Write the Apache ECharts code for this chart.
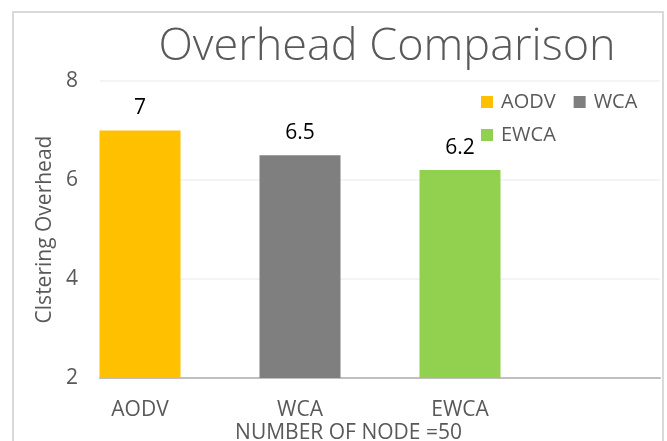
<!DOCTYPE html>
<html>
<head>
<meta charset="utf-8">
<script src="https://cdn.jsdelivr.net/npm/echarts@6/dist/echarts.min.js"></script>
<style>
  html, body { margin: 0; padding: 0; background: #fff; }
  #main { width: 667px; height: 441px; }
</style>
</head>
<body>
<div id="main"></div>
<script>
// data
var categories = ['AODV', 'WCA', 'EWCA']
var seriesNames = ['AODV', 'WCA', 'EWCA']
var values = [7, 6.5, 6.2]
var colors = ['#FFC000', '#7F7F7F', '#92D050']
var yTicks = [2, 4, 6, 8]

var FONT = '"Open Sans", sans-serif'
var GREY = '#595959'

var myChart = echarts.init(document.getElementById('main'))

var series = seriesNames.map(function (name, i) {
    return {
        name: name,
        type: 'bar',
        data: [[i, values[i]]],
        barWidth: 81,
        barGap: '-100%',
        itemStyle: { color: colors[i] },
        label: {
            show: true,
            position: 'top',
            distance: 12,
            fontFamily: FONT,
            fontSize: 21,
            color: '#000'
        }
    }
})

var option = {
    backgroundColor: '#fff',
    animation: false,
    graphic: [{
        type: 'rect',
        shape: { x: 13, y: 12, width: 650, height: 460 },
        style: { fill: 'none', stroke: '#d9d9d9', lineWidth: 2 },
        silent: true
    }],
    title: {
        text: 'Overhead Comparison',
        left: 382,
        textAlign: 'center',
        top: 20,
        textStyle: {
            fontFamily: FONT,
            fontWeight: 300,
            fontSize: 45,
            color: GREY
        }
    },
    legend: [{
        data: seriesNames.slice(0, 2),
        left: 476,
        top: 87,
        icon: 'rect',
        itemWidth: 12,
        itemHeight: 12,
        itemGap: 18,
        textStyle: { fontFamily: FONT, fontSize: 20, color: GREY, padding: [0, 0, 0, 3] }
    }, {
        data: seriesNames.slice(2),
        left: 476,
        top: 120,
        icon: 'rect',
        itemWidth: 12,
        itemHeight: 12,
        textStyle: { fontFamily: FONT, fontSize: 20, color: GREY, padding: [0, 0, 0, 3] }
    }],
    grid: {
        left: 100,
        right: 7,
        top: 81,
        bottom: 63,
        outerBoundsMode: 'none'
    },
    xAxis: {
        type: 'value',
        min: -0.25,
        max: 3.25,
        name: 'NUMBER OF NODE =50',
        nameLocation: 'middle',
        nameGap: 45,
        nameMoveOverlap: false,
        nameTextStyle: {
            fontFamily: FONT,
            fontSize: 21,
            color: GREY,
            padding: [0, 63, 0, 0]
        },
        axisLine: { show: true, lineStyle: { color: '#bfbfbf', width: 2 } },
        axisTick: { show: false },
        splitLine: { show: false },
        axisLabel: {
            customValues: [0, 1, 2],
            formatter: function (v) { return categories[Math.round(v)] },
            margin: 22,
            fontFamily: FONT,
            fontSize: 21,
            color: GREY
        }
    },
    yAxis: {
        type: 'value',
        min: yTicks[0],
        max: yTicks[yTicks.length - 1],
        interval: 2,
        name: 'Clstering Overhead',
        nameLocation: 'middle',
        nameGap: 44,
        nameTextStyle: { fontFamily: FONT, fontSize: 21, color: GREY },
        axisLine: { show: false },
        axisTick: { show: false },
        splitLine: { lineStyle: { color: '#f0f0f0', width: 1.5 } },
        axisLabel: {
            margin: 22,
            fontFamily: FONT,
            fontSize: 21,
            color: GREY
        }
    },
    series: series
}

myChart.setOption(option)
</script>
</body>
</html>
